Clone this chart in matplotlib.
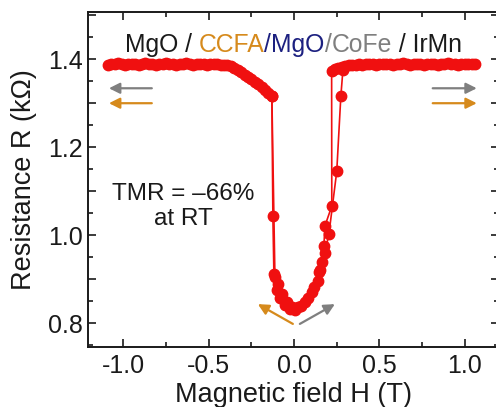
import matplotlib
matplotlib.use("Agg")
import matplotlib.pyplot as plt
from matplotlib.ticker import MultipleLocator, FuncFormatter

plt.rcParams["font.family"] = ["Liberation Sans", "DejaVu Sans"]

# left plateau (high resistance, antiparallel)
h_plateau_left = [-1.09, -1.07, -1.05, -1.03, -1.01, -0.99, -0.97, -0.95, -0.93, -0.91,
                  -0.89, -0.87, -0.85, -0.83, -0.81, -0.79, -0.77, -0.75, -0.73, -0.71,
                  -0.69, -0.67, -0.65, -0.63, -0.61, -0.59, -0.57, -0.55, -0.53, -0.51,
                  -0.49, -0.47, -0.45, -0.43, -0.41, -0.39]
r_plateau_left = [1.388, 1.390, 1.389, 1.391, 1.389, 1.388, 1.390, 1.389, 1.390, 1.388,
                  1.389, 1.391, 1.390, 1.389, 1.388, 1.390, 1.389, 1.391, 1.389, 1.390,
                  1.388, 1.389, 1.390, 1.391, 1.389, 1.388, 1.390, 1.389, 1.390, 1.388,
                  1.389, 1.390, 1.389, 1.388, 1.387, 1.386]

# shoulder before the switch
h_shoulder = [-0.37, -0.35, -0.33, -0.31, -0.29, -0.27, -0.25, -0.23, -0.21, -0.19,
              -0.17, -0.15, -0.13]
r_shoulder = [1.384, 1.380, 1.375, 1.370, 1.365, 1.360, 1.354, 1.349, 1.343, 1.337,
              1.331, 1.324, 1.316]

# dip, first sweep
h_dip_a = [-0.124, -0.118, -0.095, -0.071, -0.042, -0.013, 0.022, 0.063, 0.104, 0.139,
           0.151, 0.175, 0.180, 0.221]
r_dip_a = [1.043, 0.911, 0.889, 0.866, 0.848, 0.836, 0.836, 0.848, 0.870, 0.895,
           0.920, 0.975, 1.020, 1.066]

# dip, second sweep
h_dip_b = [-0.130, -0.112, -0.100, -0.080, -0.055, -0.025, 0.005, 0.040, 0.080, 0.118,
           0.146, 0.163, 0.180, 0.204, 0.250, 0.274, 0.286]
r_dip_b = [1.316, 0.905, 0.876, 0.858, 0.842, 0.832, 0.830, 0.838, 0.857, 0.882,
           0.915, 0.939, 0.959, 1.002, 1.145, 1.316, 1.375]

# right plateau
h_plateau_right = [0.22, 0.24, 0.26, 0.28, 0.30, 0.32, 0.34, 0.36, 0.38, 0.40,
                   0.42, 0.44, 0.46, 0.48, 0.50, 0.52, 0.54, 0.56, 0.58, 0.60,
                   0.62, 0.64, 0.66, 0.68, 0.70, 0.72, 0.74, 0.76, 0.78, 0.80,
                   0.82, 0.84, 0.86, 0.88, 0.90, 0.92, 0.94, 0.96, 0.98, 1.00,
                   1.02, 1.04, 1.06]
r_plateau_right = [1.374, 1.378, 1.381, 1.383, 1.385, 1.386, 1.387, 1.388, 1.389, 1.388,
                   1.389, 1.390, 1.389, 1.388, 1.390, 1.389, 1.390, 1.389, 1.388, 1.390,
                   1.389, 1.391, 1.389, 1.388, 1.390, 1.389, 1.390, 1.388, 1.389, 1.390,
                   1.389, 1.388, 1.390, 1.389, 1.391, 1.389, 1.390, 1.388, 1.389, 1.390,
                   1.389, 1.390, 1.389]

red = "#f01010"
orange = "#d68a1c"
grey = "#7f7f7f"
navy = "#1c2080"
black = "#1a1a1a"

fig = plt.figure(figsize=(4.96, 4.07), dpi=100)
ax = fig.add_axes([0.178, 0.148, 0.828, 0.822])

h1 = h_plateau_left + h_shoulder + h_dip_a + h_plateau_right
r1 = r_plateau_left + r_shoulder + r_dip_a + r_plateau_right
ax.plot(h1, r1, "-o", color=red, lw=1.2, ms=7.5, mec=red, mfc=red)
ax.plot(h_dip_b, r_dip_b, "-o", color=red, lw=1.2, ms=7.5, mec=red, mfc=red)

ax.set_xlim(-1.205, 1.2)
ax.set_ylim(0.746, 1.507)

ax.xaxis.set_major_locator(MultipleLocator(0.5))
ax.xaxis.set_minor_locator(MultipleLocator(0.25))
ax.yaxis.set_major_locator(MultipleLocator(0.1))
ax.yaxis.set_minor_locator(MultipleLocator(0.05))
ax.xaxis.set_major_formatter(FuncFormatter(lambda v, p: f"{v:.1f}".replace("-0.0", "0.0")))
ax.yaxis.set_major_formatter(FuncFormatter(lambda v, p: f"{v:.1f}" if round(v * 10) % 2 == 0 else ""))

ax.tick_params(which="both", direction="in", top=True, right=True, colors=black,
               labelsize=18, width=1.2)
ax.tick_params(which="major", length=6)
ax.tick_params(which="minor", length=3.5)
ax.tick_params(axis="x", pad=5)
ax.tick_params(axis="y", pad=4)
for s in ax.spines.values():
    s.set_linewidth(1.4)
    s.set_color(black)

ax.set_xlabel("Magnetic field H (T)", fontsize=19.5, color=black, labelpad=3)
ax.set_ylabel("Resistance R (k\u03a9)", fontsize=19.5, color=black, labelpad=8)

# stack label with coloured parts
pieces = [("MgO / ", black), ("CCFA", orange), ("/", navy), ("MgO", navy),
          ("/", grey), ("CoFe", grey), (" / IrMn", black)]
prev = None
for txt, col in pieces:
    if prev is None:
        prev = ax.text(0.089, 0.865, txt, transform=ax.transAxes, fontsize=17.8,
                       color=col, ha="left", va="bottom")
    else:
        prev = ax.annotate(txt, xy=(1, 0), xycoords=prev, fontsize=17.8,
                           color=col, ha="left", va="bottom")

ax.text(-0.65, 1.065, "TMR = \u201366%\nat RT", fontsize=17.5, color=black,
        ha="center", va="center", linespacing=1.15)

arrow = dict(arrowstyle="-|>", lw=1.6, mutation_scale=16, shrinkA=0, shrinkB=0)
ax.annotate("", xy=(-1.084, 1.334), xytext=(-0.833, 1.334), arrowprops=dict(arrow, color=grey))
ax.annotate("", xy=(-1.084, 1.300), xytext=(-0.833, 1.300), arrowprops=dict(arrow, color=orange))
ax.annotate("", xy=(1.07, 1.334), xytext=(0.812, 1.334), arrowprops=dict(arrow, color=grey))
ax.annotate("", xy=(1.07, 1.300), xytext=(0.812, 1.300), arrowprops=dict(arrow, color=orange))
ax.annotate("", xy=(-0.212, 0.843), xytext=(-0.007, 0.798), arrowprops=dict(arrow, color=orange))
ax.annotate("", xy=(0.239, 0.843), xytext=(0.034, 0.798), arrowprops=dict(arrow, color=grey))

fig.savefig("out.png", dpi=100)
